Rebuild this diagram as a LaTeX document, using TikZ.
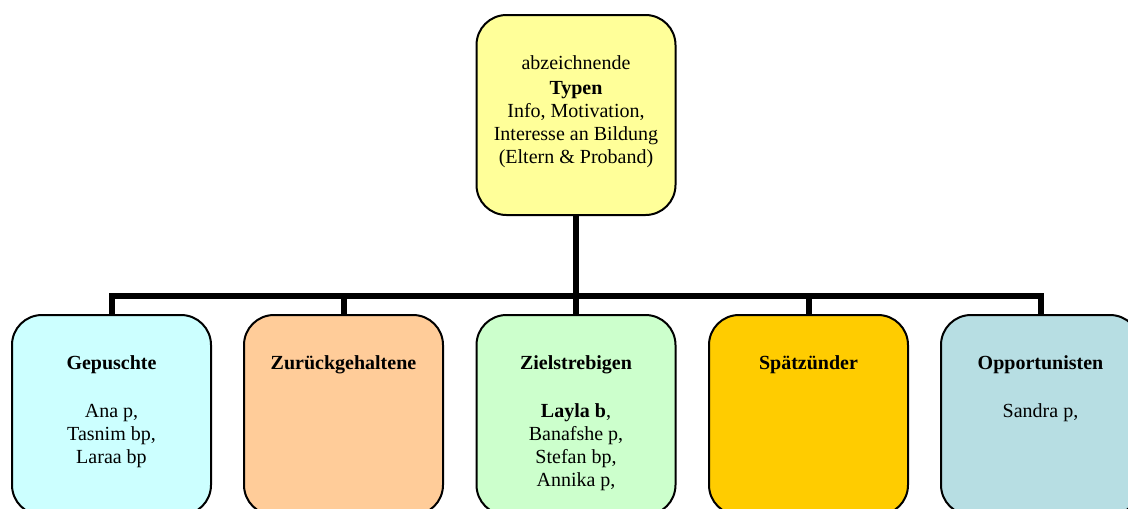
\documentclass[tikz,border=0pt]{standalone}
\usepackage{fontspec}
\setmainfont{Liberation Serif}
\definecolor{topfill}{HTML}{FFFF99}
\definecolor{cyanfill}{HTML}{CCFFFF}
\definecolor{peachfill}{HTML}{FFCC99}
\definecolor{mintfill}{HTML}{CCFFCC}
\definecolor{goldfill}{HTML}{FFCC00}
\definecolor{aquafill}{HTML}{B7DEE3}
\tikzset{
  typebox/.style={draw=black, line width=2pt, rounded corners=30pt,
    minimum width=199pt, minimum height=200pt, inner sep=0pt},
  boxtext/.style={anchor=north, align=center, inner sep=0pt,
    font=\fontsize{20}{23}\selectfont},
  branch/.style={line width=6pt, line join=miter}
}
\begin{document}
\begin{tikzpicture}[x=1pt, y=-1pt]
  \useasboundingbox (0,0) rectangle (1128,509);
  \clip (0,0) rectangle (1128,509);

  % top box
  \node[typebox, fill=topfill] (top) at (576,115) {};
  \node[boxtext] (toptext) at (576,55.5) {abzeichnende\\[1.5pt]\textbf{Typen}\\Info, Motivation,\\Interesse an Bildung\\(Eltern \& Proband)};

  % second row of boxes
  \node[typebox, fill=cyanfill]  (b1) at (111.5,415) {};
  \node[typebox, fill=peachfill] (b2) at (343.5,415) {};
  \node[typebox, fill=mintfill]  (b3) at (576,415) {};
  \node[typebox, fill=goldfill]  (b4) at (808.5,415) {};
  \node[typebox, fill=aquafill]  (b5) at (1040.5,415) {};

  \node[boxtext] (t1) at (111.5,355) {\textbf{Gepuschte}\\[25pt]Ana p,\\Tasnim bp,\\Laraa bp};
  \node[boxtext] (t2) at (343.5,355) {\textbf{Zurückgehaltene}};
  \node[boxtext] (t3) at (576,355) {\textbf{Zielstrebigen}\\[25pt]\textbf{Layla b},\\Banafshe p,\\Stefan bp,\\Annika p,};
  \node[boxtext] (t4) at (808.5,355) {\textbf{Spätzünder}};
  \node[boxtext] (t5) at (1040.5,355) {\textbf{Opportunisten}\\[25pt]Sandra p,};

  % connectors
  \coordinate (bus) at (576,296);
  \draw[branch] (top.south) -- (bus);
  \draw[branch] (b1.north) -- (b1.north |- bus) -- (b5.north |- bus) -- (b5.north);
  \draw[branch] (b2.north) -- (b2.north |- bus);
  \draw[branch] (b3.north) -- (b3.north |- bus);
  \draw[branch] (b4.north) -- (b4.north |- bus);
\end{tikzpicture}
\end{document}
